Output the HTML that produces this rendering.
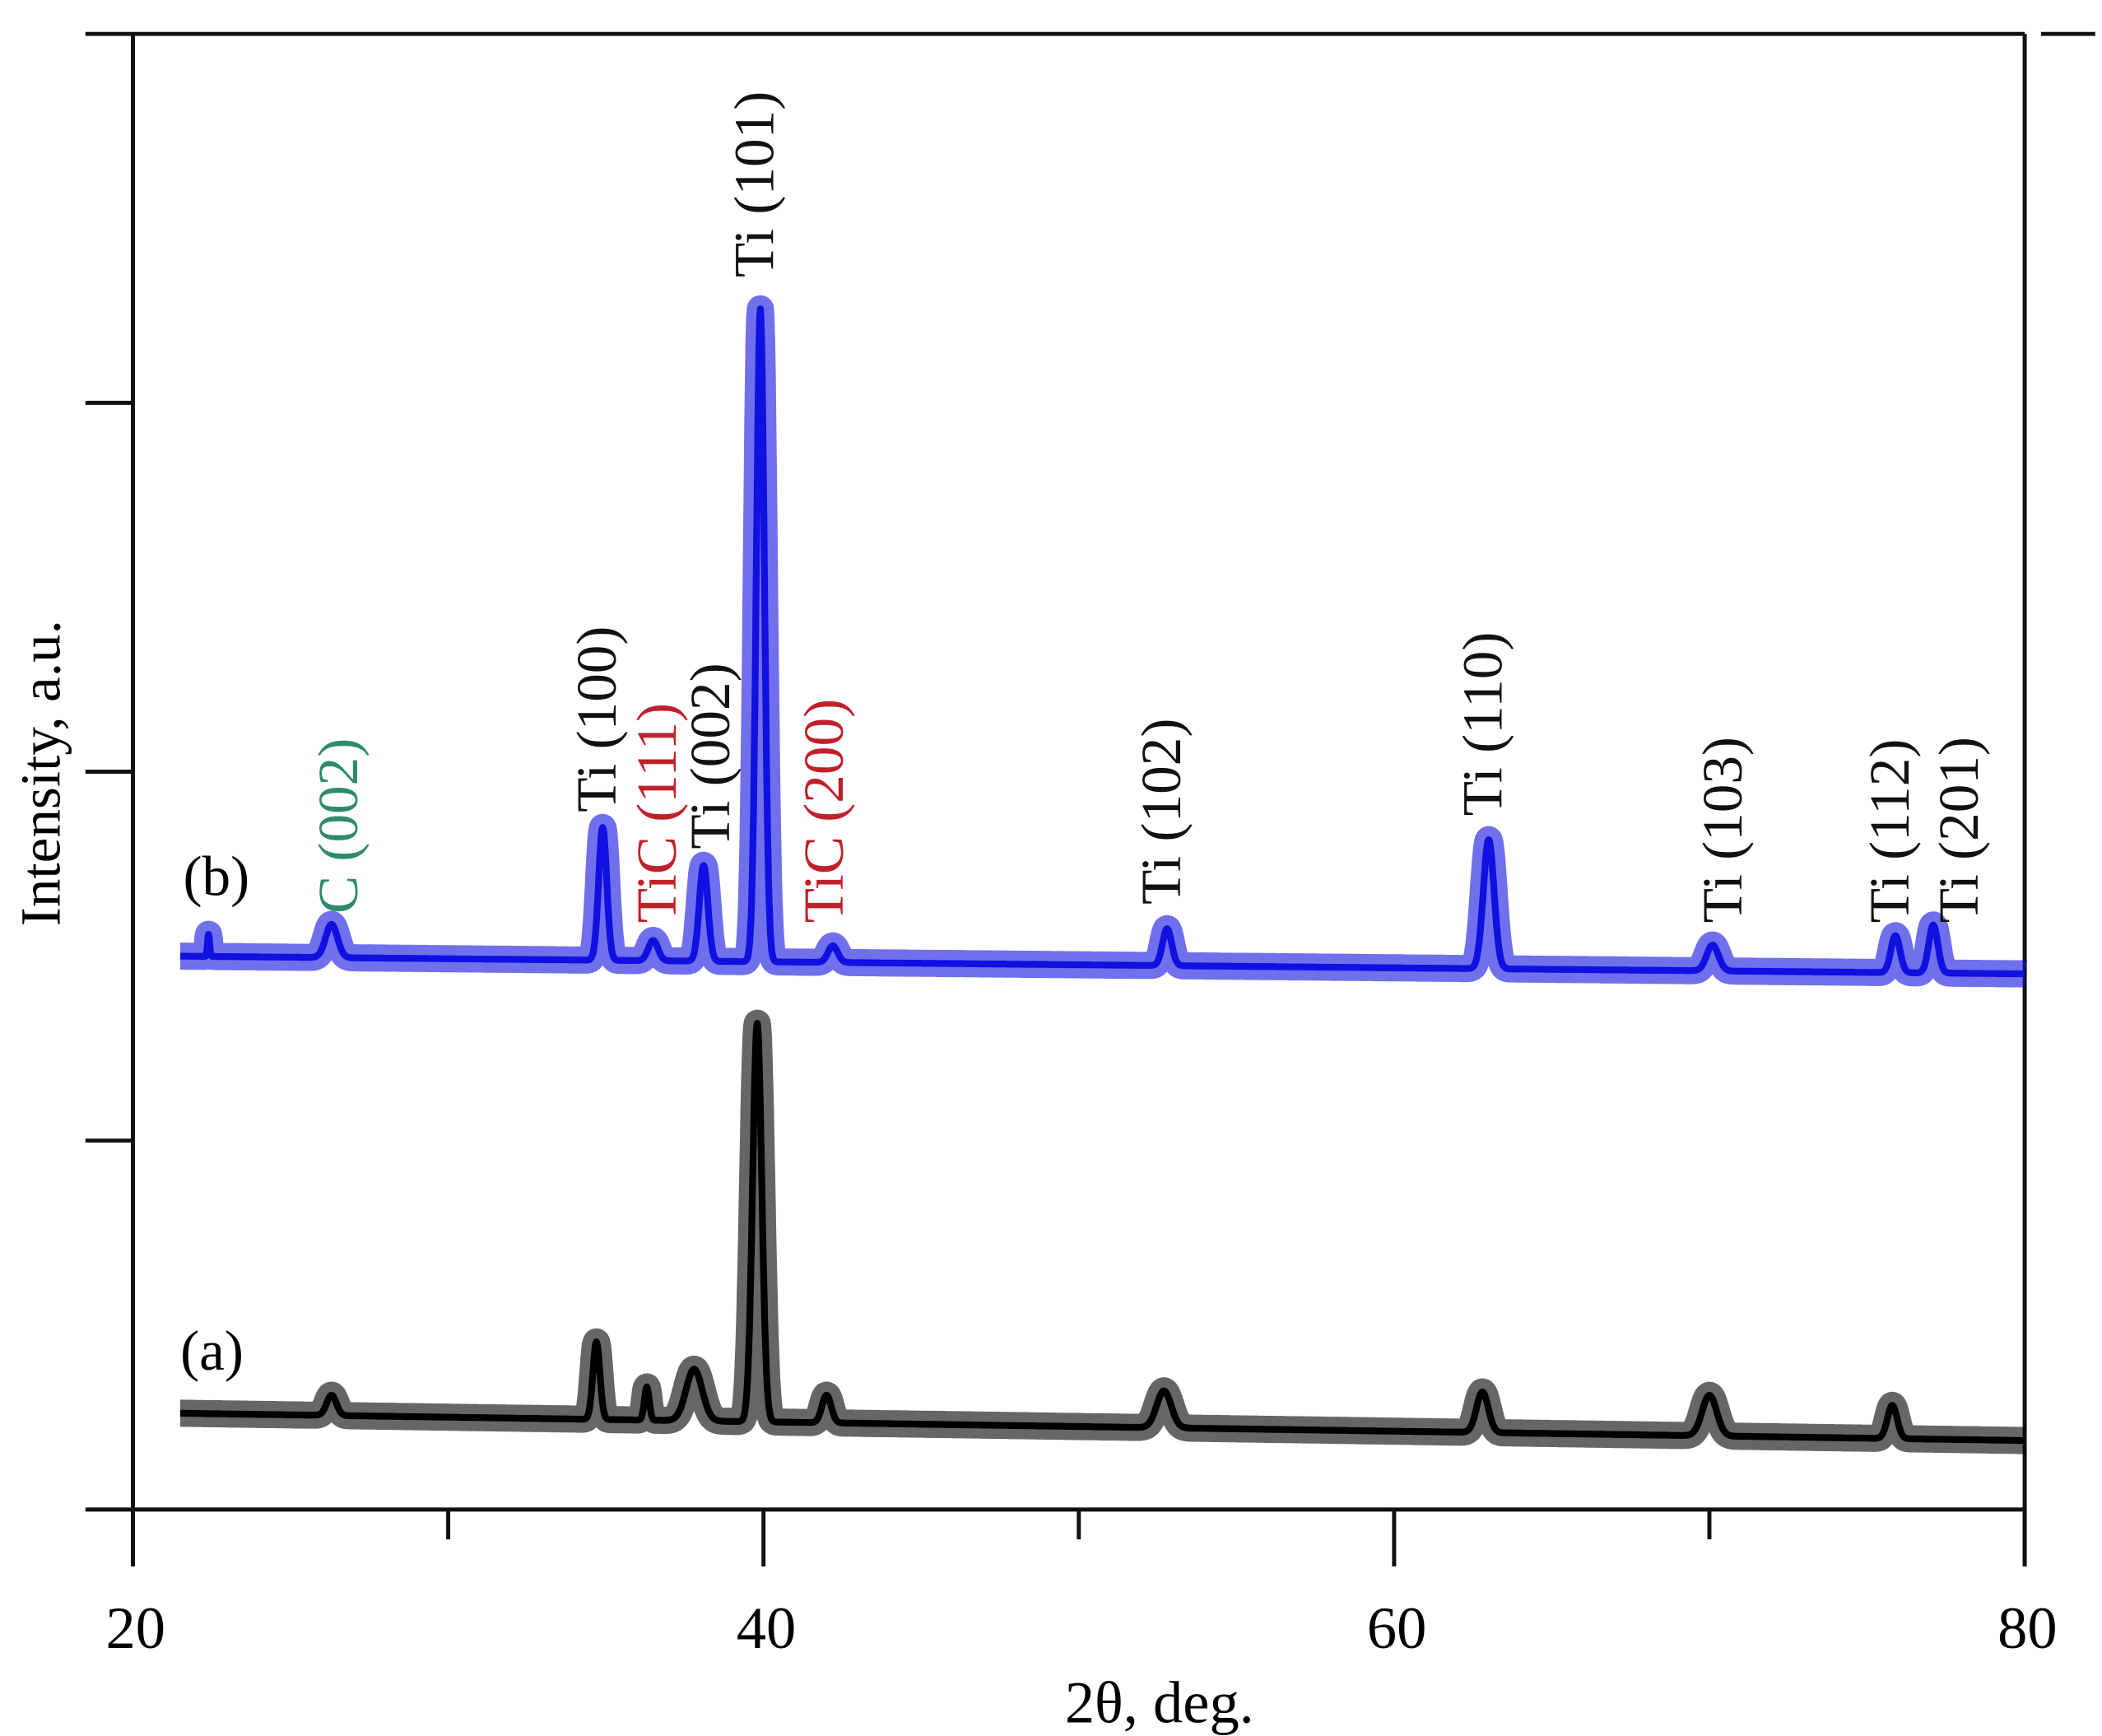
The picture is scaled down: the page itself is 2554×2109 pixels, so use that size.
<!DOCTYPE html>
<html><head><meta charset="utf-8"><style>
html,body{margin:0;padding:0;background:#fff;}
svg{display:block;}
text{font-family:"Liberation Serif",serif;}
</style></head><body>
<svg id="chart" width="2554" height="2109" viewBox="0 0 1550 1280" preserveAspectRatio="none" xmlns="http://www.w3.org/2000/svg">
<rect width="1550" height="1280" fill="#fff"/>
<g id="frame" stroke="#111" stroke-width="3" fill="none">
<line x1="63" y1="25" x2="1493" y2="25"/>
<line x1="1505" y1="25" x2="1545" y2="25"/>
<line x1="98" y1="25" x2="98" y2="1155"/>
<line x1="1493" y1="25" x2="1493" y2="1155"/>
<line x1="63" y1="1113" x2="1493" y2="1113"/>
</g>
<g id="ticks" stroke="#111" stroke-width="3"></g>
<g id="series"></g>
<g id="labels"></g>
<text x="855" y="1270" font-size="44" text-anchor="middle">2θ, deg.</text>
<text transform="translate(44,570) rotate(-90)" font-size="42" text-anchor="middle">Intensity, a.u.</text>
<text x="135" y="660" font-size="42">(b)</text>
<text x="133" y="1010" font-size="42">(a)</text>
</svg>
<script>
const xMajorTicks=[20,40,60,80];
const xMinorTicks=[30,50,70];
const yTicks=[1000,2000,3000];
// series (b) peaks: position (deg), height (a.u.), half-width (deg)
const peakPosB=[22.4,26.3,34.9,36.5,38.1,39.9,42.2,52.8,63.0,70.1,75.9,77.1];
const peakHB=[60,90,360,55,260,1770,45,100,350,70,100,130];
const peakWB=[0.04,0.22,0.15,0.18,0.16,0.15,0.18,0.17,0.2,0.22,0.17,0.17];
const baseB=[1500,1452];
// series (a)
const peakPosA=[26.3,34.7,36.3,37.8,39.8,42.0,52.7,62.8,70.0,75.8];
const peakHA=[55,210,90,140,1080,75,100,110,110,90];
const peakWA=[0.18,0.13,0.09,0.3,0.17,0.17,0.27,0.22,0.27,0.18];
const baseA=[261,187];
const xRange=[21.5,80];
const peakLabels=["C (002)","Ti (100)","TiC (111)","Ti (002)","Ti (101)","TiC (200)","Ti (102)","Ti (110)","Ti (103)","Ti (112)","Ti (201)"];
const labelPos=[26.5,34.7,36.6,38.3,39.7,41.9,52.6,62.8,70.4,75.7,77.9];
const labelBottomI=[1615,1890,1590,1790,3340,1590,1640,1880,1590,1590,1590];
const labelColors=["#2e8b6a","#111","#c0202a","#111","#111","#c0202a","#111","#111","#111","#111","#111"];

const NS="http://www.w3.org/2000/svg";
const X=v=>98+(v-20)*(1493-98)/60;
const Y=i=>1113-i*0.272;

const tg=document.getElementById('ticks');
function ln(g,x1,y1,x2,y2){const l=document.createElementNS(NS,'line');l.setAttribute('x1',x1);l.setAttribute('y1',y1);l.setAttribute('x2',x2);l.setAttribute('y2',y2);g.appendChild(l);return l;}
xMajorTicks.forEach(v=>{const l=ln(tg,X(v),1113,X(v),1155);


const t=document.createElementNS(NS,'text');t.setAttribute('x',X(v)+2);t.setAttribute('y',1215);t.setAttribute('font-size','44');t.setAttribute('text-anchor','middle');t.textContent=v;


document.getElementById('chart').appendChild(t);});
xMinorTicks.forEach(v=>{const l=ln(tg,X(v),1113,X(v),1135);

});
yTicks.forEach(v=>{const l=ln(tg,63,Y(v),98,Y(v));

});

function profile(x,pos,h,w,base){
  let I=base[0]+(base[1]-base[0])*(x-xRange[0])/(xRange[1]-xRange[0]);
  for(let k=0;k<pos.length;k++){const d=(x-pos[k])/w[k];I+=h[k]*Math.exp(-0.693*d*d);}
  return I;
}
function draw(pos,h,w,base,color,name){
  let d='';
  for(let x=xRange[0];x<=xRange[1]+1e-9;x+=0.02){d+=(d?'L':'M')+X(x).toFixed(1)+','+Y(profile(x,pos,h,w,base)).toFixed(1);}
  const g=document.getElementById('series');
  const band=document.createElementNS(NS,'path');band.setAttribute('d',d);band.setAttribute('fill','none');band.setAttribute('stroke',color);band.setAttribute('stroke-width','20');band.setAttribute('stroke-opacity','0.6');band.setAttribute('stroke-linejoin','round');
  
  
  g.appendChild(band);
  const p=document.createElementNS(NS,'path');p.setAttribute('d',d);p.setAttribute('fill','none');p.setAttribute('stroke',color);p.setAttribute('stroke-width','5');p.setAttribute('stroke-linejoin','round');
  
  
  g.appendChild(p);
}
draw(peakPosB,peakHB,peakWB,baseB,'#1010e0','series-b-line');
draw(peakPosA,peakHA,peakWA,baseA,'#000','series-a-line');

const lg=document.getElementById('labels');
peakLabels.forEach((s,k)=>{
  const t=document.createElementNS(NS,'text');
  t.setAttribute('transform','translate('+X(labelPos[k]).toFixed(1)+','+Y(labelBottomI[k]).toFixed(1)+') rotate(-90)');
  t.setAttribute('font-size','42');t.setAttribute('dominant-baseline','central');t.setAttribute('fill',labelColors[k]);
  t.textContent=s;
  
  
  lg.appendChild(t);
});
</script>
</body></html>
